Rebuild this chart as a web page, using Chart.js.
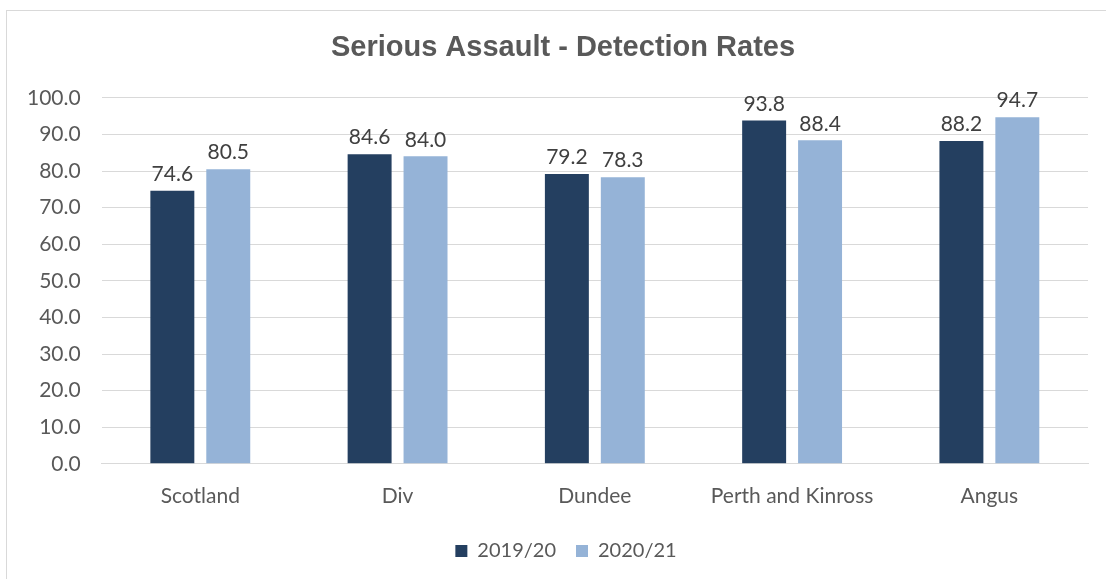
<!DOCTYPE html>
<html><head><meta charset="utf-8">
<script src="https://cdn.jsdelivr.net/npm/chart.js@4/dist/chart.umd.min.js"></script>
<style>html,body{margin:0;padding:0;background:#fff;}#wrap{width:1106px;height:579px;position:relative;}</style>
</head><body><div id="wrap"><canvas id="c" width="1106" height="579"></canvas></div>
<script>
const categories = ["Scotland", "Div", "Dundee", "Perth and Kinross", "Angus"];
const series2019 = [74.6, 84.6, 79.2, 93.8, 88.2];
const series2020 = [80.5, 84.0, 78.3, 88.4, 94.7];
const seriesNames = ["2019/20", "2020/21"];
const yTicks = [0,10,20,30,40,50,60,70,80,90,100];

const frame = {
  id: 'frame',
  beforeDraw(chart) {
    const ctx = chart.ctx;
    ctx.save();
    ctx.fillStyle = '#fff';
    ctx.fillRect(0,0,chart.width,chart.height);
    ctx.strokeStyle = '#d9d9d9';
    ctx.lineWidth = 1;
    ctx.strokeRect(6.5, 10.5, 1300, 1300);
    ctx.restore();
  }
};
const shiftBlocks = {
  id: 'shiftBlocks',
  afterLayout(chart) {
    if (chart.titleBlock) { chart.titleBlock.left += 16; chart.titleBlock.right += 16; }
    if (chart.legend) { chart.legend.left += 19; chart.legend.right += 19; }
  }
};
const valueLabels = {
  id: 'valueLabels',
  afterDatasetsDraw(chart) {
    const ctx = chart.ctx;
    ctx.save();
    ctx.font = '21px Lato';
    ctx.fillStyle = '#404040';
    ctx.textAlign = 'center';
    ctx.textBaseline = 'bottom';
    chart.data.datasets.forEach((ds, i) => {
      chart.getDatasetMeta(i).data.forEach((bar, j) => {
        ctx.fillText(ds.data[j].toFixed(1), bar.x, bar.y - 6);
      });
    });
    ctx.restore();
  }
};

new Chart(document.getElementById('c'), {
  type: 'bar',
  data: {
    labels: categories,
    datasets: [
      {label: seriesNames[0], data: series2019, backgroundColor: '#243F60', categoryPercentage: 0.567, barPercentage: 0.786},
      {label: seriesNames[1], data: series2020, backgroundColor: '#95B3D7', categoryPercentage: 0.567, barPercentage: 0.786}
    ]
  },
  options: {
    responsive: false,
    animation: false,
    layout: {padding: {left: 6, right: 18, top: 0, bottom: 8}},
    plugins: {
      title: {display: true, text: 'Serious Assault - Detection Rates', color: '#595959',
        font: {family: 'Liberation Sans', size: 29, weight: 'bold'}, padding: {top: 31, bottom: 32}},
      legend: {position: 'bottom', labels: {color: '#595959', font: {family: 'Lato', size: 20},
        boxWidth: 12, boxHeight: 12, padding: 20}},
      tooltip: {enabled: false}
    },
    scales: {
      x: {grid: {display: false}, border: {color: '#d9d9d9'},
        ticks: {color: '#595959', font: {family: 'Lato', size: 21}, padding: 12}},
      y: {min: 0, max: 100, afterBuildTicks(axis){ axis.ticks = yTicks.map(v => ({value: v})); },
        grid: {color: '#d9d9d9', drawTicks: false}, border: {display: false},
        ticks: {color: '#595959', font: {family: 'Lato', size: 21}, padding: 21,
          callback: v => Number(v).toFixed(1)}}
    }
  },
  plugins: [frame, shiftBlocks, valueLabels]
});
</script></body></html>
